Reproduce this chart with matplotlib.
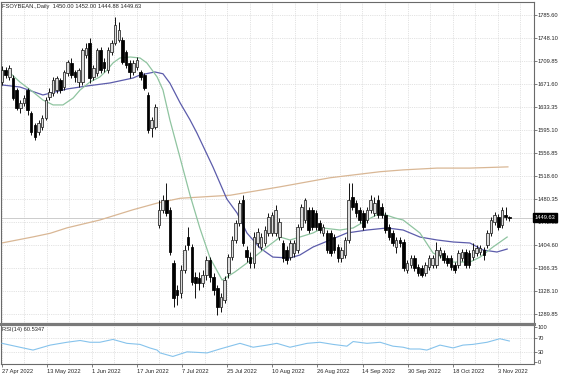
import matplotlib
matplotlib.use("Agg")
import matplotlib.pyplot as plt
from matplotlib.patches import Rectangle
import numpy as np

# ---------------- data ----------------
opens = [1675,1694,1683,1681,1661,1632,1640,1661,1623,1603,1592,1600,1615,1650,1656,1661,1678,1666,1690,1706,
         1691,1675,1675,1719,1739,1683,1690,1728,1708,1695,1724,1739,1744,1744,1724,1706,1691,1699,1691,1686,
         1653,1598,1600,1438,1462,1479,1463,1375,1330,1325,1363,1418,1401,1352,1350,1342,1355,1380,1352,1333,
         1302,1313,1358,1385,1413,1441,1479,1396,1385,1375,1408,1401,1408,1424,1424,1424,1418,1408,1396,1385,
         1391,1396,1434,1446,1463,1463,1458,1441,1424,1424,1424,1418,1401,1383,1388,1413,1484,1474,1463,1458,
         1446,1463,1458,1479,1468,1454,1434,1424,1401,1413,1410,1363,1371,1383,1368,1366,1358,1368,1371,1371,
         1388,1391,1383,1383,1371,1371,1383,1393,1391,1385,1391,1393,1396,1404,1424,1443,1451,1438,1454,1450.00]
highs = [1701,1699,1703,1686,1665,1645,1653,1665,1627,1607,1612,1620,1650,1665,1683,1685,1681,1695,1711,1714,
         1695,1698,1731,1739,1747,1703,1731,1733,1714,1733,1744,1782,1774,1749,1728,1711,1711,1716,1695,1690,
         1658,1617,1638,1479,1488,1507,1468,1380,1338,1371,1405,1434,1406,1360,1360,1363,1386,1385,1358,1338,
         1325,1353,1390,1419,1446,1479,1487,1403,1393,1426,1433,1424,1436,1458,1459,1471,1449,1413,1403,1413,
         1413,1439,1473,1482,1468,1468,1463,1446,1439,1429,1429,1423,1406,1401,1418,1507,1507,1479,1468,1463,
         1468,1488,1484,1488,1474,1459,1439,1429,1418,1418,1414,1380,1388,1388,1373,1371,1376,1388,1388,1410,
         1401,1396,1388,1388,1376,1396,1398,1398,1396,1408,1404,1404,1401,1429,1451,1459,1456,1468,1468,1452.00]
lows = [1670,1681,1678,1645,1628,1623,1635,1620,1587,1579,1587,1595,1612,1645,1651,1656,1656,1661,1685,1681,
        1675,1666,1670,1714,1673,1678,1685,1690,1691,1690,1719,1736,1741,1704,1698,1681,1686,1695,1678,1661,
        1590,1584,1597,1433,1458,1453,1388,1302,1305,1317,1358,1396,1338,1317,1330,1335,1347,1343,1322,1288,
        1293,1308,1350,1380,1408,1436,1403,1376,1366,1366,1401,1396,1403,1419,1419,1419,1413,1376,1373,1380,
        1385,1391,1429,1441,1424,1429,1429,1424,1419,1391,1386,1391,1376,1376,1383,1408,1463,1451,1441,1429,
        1441,1458,1453,1449,1449,1424,1413,1403,1391,1401,1361,1358,1366,1361,1353,1351,1353,1363,1366,1366,
        1383,1375,1370,1363,1358,1366,1378,1366,1366,1380,1386,1388,1380,1399,1419,1438,1429,1433,1446,1444.88]
closes = [1694,1686,1698,1648,1632,1640,1648,1628,1592,1584,1607,1615,1645,1658,1678,1681,1661,1691,1708,1686,
          1683,1695,1728,1731,1681,1698,1728,1695,1698,1728,1739,1769,1761,1708,1703,1691,1706,1711,1683,1665,
          1595,1612,1633,1463,1479,1458,1393,1317,1322,1363,1396,1405,1343,1342,1342,1355,1380,1352,1330,1302,
          1318,1346,1385,1413,1441,1474,1408,1385,1375,1418,1426,1418,1429,1451,1454,1463,1443,1383,1380,1408,
          1408,1434,1468,1479,1429,1434,1434,1429,1434,1396,1391,1396,1383,1396,1413,1479,1468,1458,1446,1434,
          1463,1479,1474,1454,1454,1429,1418,1408,1413,1408,1366,1375,1383,1366,1358,1355,1371,1383,1383,1396,
          1396,1380,1375,1368,1363,1391,1393,1371,1371,1396,1399,1399,1388,1424,1446,1454,1434,1463,1451,1449.63]

# moving averages (bar position, value)
ma_fast_x = [0,2.2,4.9,8.5,11.2,14,16.7,19.5,21.4,24.1,26.8,28.8,30.4,32.3,35.1,37.8,39.7,42.5,44.1,46,48.8,51.5,
             54.2,57,60.3,63.8,67.1,71.5,76.2,78.9,81.6,85.2,87.9,92.6,96.2,100,103.6,107.7,109.9,114.5,118.1,
             123.6,128.2,131,134.5,138.4]
ma_fast_y = [1694.5,1689.5,1674.6,1658.1,1644.8,1636.6,1636.6,1648.1,1661.4,1674.6,1682.9,1694.5,1706.1,1714.4,
             1716.0,1714.4,1706.1,1682.9,1661.4,1611.7,1548.7,1487.5,1432.8,1383.0,1346.6,1359.9,1374.7,1396.3,
             1417.8,1412.9,1417.8,1424.5,1432.8,1429.4,1432.8,1446.0,1457.6,1449.3,1446.0,1424.5,1391.3,1376.4,
             1376.4,1384.6,1401.2,1417.8]
ma_mid_x = [0,4.9,11.2,17.8,23.3,29.6,35.9,37.8,41.9,44.1,46,48.8,51.5,53.4,57.8,61.6,64.4,67.1,70.7,74.2,78.9,
            81.6,85.2,89.9,94.5,100,105.5,109.9,114.5,119.2,123.6,128.2,131.8,135.6,138.4]
ma_mid_y = [1669.7,1666.3,1653.1,1663.0,1668.0,1673.0,1681.2,1686.2,1691.2,1688.2,1672.7,1640.0,1612.0,1590.1,
            1533.8,1480.8,1457.6,1424.5,1399.6,1384.6,1383.0,1388.0,1401.2,1412.9,1424.5,1429.4,1432.8,1429.4,
            1417.8,1412.9,1409.6,1407.9,1396.3,1393.0,1397.9]
ma_slow_x = [0,8.5,13.2,17.8,26.8,35.9,42.5,48.8,62.5,76.2,89.9,103.6,109.9,119.2,128.2,138.6]
ma_slow_y = [1408,1418,1424,1433,1446,1463,1474,1482,1487,1501,1516,1526,1529,1532,1532,1534]

rsi_x = [0,4.9,8.5,13.2,17.8,21.4,24.1,26.8,30.4,34.2,37.8,40.5,42.5,43.3,46.8,50.7,56.2,59.7,65.2,68.8,72.6,
         75.3,78.9,83.6,87.1,90.7,94.5,96.2,100,103.6,107.1,109.9,111.8,114.5,116.4,120,123.6,126.3,129,132.9,
         136.4,139]
rsi_y = [54,43,35,49,57,62,57,57,65,54,51,41,35,27,17,30,27,38,54,43,49,54,43,54,57,51,46,59,54,57,46,43,38,
         38,35,49,41,49,51,57,67,60.53]

date_labels = ['27 Apr 2022','13 May 2022','1 Jun 2022','17 Jun 2022','7 Jul 2022','25 Jul 2022',
               '10 Aug 2022','26 Aug 2022','14 Sep 2022','30 Sep 2022','18 Oct 2022','3 Nov 2022']
price_ticks = [1785.60,1748.10,1709.85,1671.60,1633.35,1595.10,1556.85,1518.60,1480.35,1442.85,
               1404.60,1366.35,1328.10,1289.85]
rsi_ticks = [100,70,30,0]
title_text = 'FSOYBEAN.,Daily  1450.00 1452.00 1444.88 1449.63'
rsi_title = 'RSI(14) 60.5347'

# ---------------- layout ----------------
W, H = 564, 376
PITCH = 3.65          # pixels per bar
X0 = 2.0              # pixel of first bar
FONT = 'Liberation Sans'
FS = 4.15
TXT = '#262626'
GRID = '#d2d2d2'

fig = plt.figure(figsize=(W/100, H/100), dpi=100)
fig.patch.set_facecolor('white')

def px2i(px):
    return (px - X0) / PITCH

ax = fig.add_axes([1/W, 1-323/H, 533/W, 321/H])
rx = fig.add_axes([1/W, 1-364/H, 533/W, 39/H])

xl = (px2i(1), px2i(534))
for a in (ax, rx):
    a.set_xlim(*xl)
    a.set_facecolor('white')
    for s in a.spines.values():
        s.set_color('#6a6a6a')
        s.set_linewidth(0.8)

ax.set_ylim(1275.4, 1807.1)
rx.set_ylim(-4.3, 105.7)

# grid
grid_pos = [px2i(1.6 + 22.55*k) for k in range(24)]
for a in (ax, rx):
    for g in grid_pos:
        a.axvline(g, color=GRID, lw=0.55, ls=(0, (1.0, 1.4)), zorder=0)
for p in price_ticks:
    ax.axhline(p, color=GRID, lw=0.55, ls=(0, (1.0, 1.4)), zorder=0)
for p in (70, 30):
    rx.axhline(p, color=GRID, lw=0.55, ls=(0, (1.0, 1.4)), zorder=0)

# last price line
ax.axhline(closes[-1], color='#c4c4c4', lw=0.6, zorder=1)

# moving averages
ax.plot(ma_slow_x, ma_slow_y, color='#d9b795', lw=0.9, zorder=2)
ax.plot(ma_mid_x, ma_mid_y, color='#5c5cab', lw=0.9, zorder=2)
ax.plot(ma_fast_x, ma_fast_y, color='#8fc4a0', lw=0.9, zorder=2)

# candles
bw = 0.7
for i, (o, h, l, c) in enumerate(zip(opens, highs, lows, closes)):
    ax.plot([i, i], [l, h], color='#111111', lw=0.7, zorder=3, solid_capstyle='butt')
    lo, hi = min(o, c), max(o, c)
    if c >= o:
        fc, ec = '#dcdcdc', '#222222'
    else:
        fc, ec = '#000000', '#000000'
    ax.add_patch(Rectangle((i - bw/2, lo), bw, max(hi - lo, 0.8), facecolor=fc,
                           edgecolor=ec, lw=0.55, zorder=4))

# RSI
rx.plot(rsi_x, rsi_y, color='#86c3ec', lw=0.8, zorder=3)

# ticks / labels
ax.yaxis.tick_right()
ax.set_yticks(price_ticks)
ax.set_yticklabels([f'{p:.2f}' for p in price_ticks])
ax.tick_params(axis='y', length=1.8, width=0.6, colors='#6a6a6a', pad=0.6, labelsize=FS,
               labelcolor=TXT)
ax.set_xticks([])
for lab in ax.get_yticklabels():
    lab.set_fontfamily(FONT)

rx.yaxis.tick_right()
rx.set_yticks(rsi_ticks)
rx.set_yticklabels([str(v) for v in rsi_ticks])
rx.tick_params(axis='y', length=1.8, width=0.6, colors='#6a6a6a', pad=0.6, labelsize=FS,
               labelcolor=TXT)
for lab in rx.get_yticklabels():
    lab.set_fontfamily(FONT)

date_pos = [px2i(1.7 + 45.1*k) for k in range(len(date_labels))]
rx.set_xticks(date_pos)
rx.set_xticklabels(date_labels)
rx.tick_params(axis='x', length=2, width=0.6, colors='#6a6a6a', pad=1.8, labelsize=FS,
               labelcolor=TXT)
for lab in rx.get_xticklabels():
    lab.set_fontfamily(FONT)
    lab.set_horizontalalignment('left')

# separator between panels
fig.add_artist(plt.Line2D([1/W, 534/W], [1-324/H, 1-324/H], color='#7a7a7a', lw=2.2))

# title texts
fig.text(2/W, 1-6.5/H, title_text, fontsize=FS, family=FONT, color=TXT, va='center', ha='left')
fig.text(2.5/W, 1-330/H, rsi_title, fontsize=FS, family=FONT, color=TXT, va='center', ha='left')

# close price box
fig.text(534.5/W, 1-217.5/H, f'{closes[-1]:.2f}', fontsize=FS, family=FONT, color='white',
         va='center', ha='left',
         bbox=dict(boxstyle='square,pad=0.3', facecolor='black', edgecolor='black'))

fig.savefig('out.png', dpi=100, facecolor='white')
